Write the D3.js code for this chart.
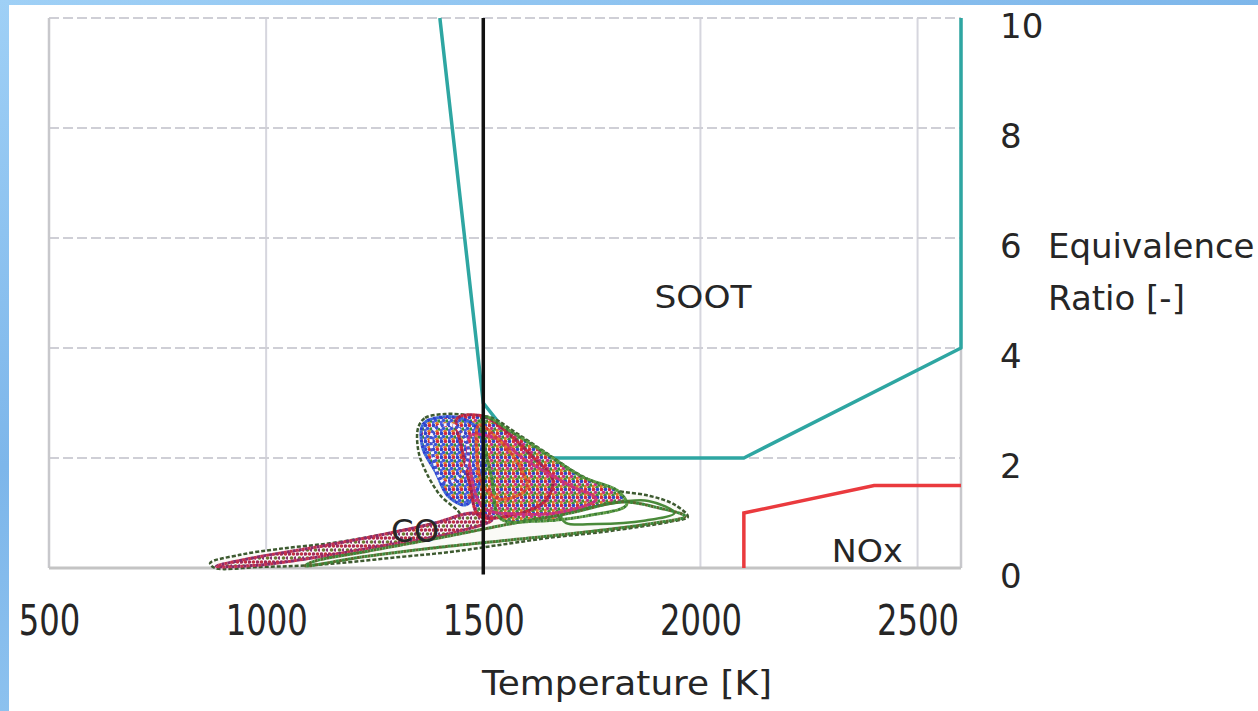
<!DOCTYPE html>
<html>
<head>
<meta charset="utf-8">
<script src="https://cdn.jsdelivr.net/npm/d3@7"></script>
<style>
  html, body { margin: 0; padding: 0; }
  body { width: 1258px; height: 711px; overflow: hidden;
         background: linear-gradient(160deg, #9fd0f6 0%, #7db6ea 40%, #a9d6f7 100%); }
  svg { display: block; }
  text { font-family: "DejaVu Sans", Verdana, sans-serif; fill: #262626; }
</style>
</head>
<body>
<svg id="chart"></svg>
<script>
// axis ticks
const xTicks = [500, 1000, 1500, 2000, 2500];
const xGrid = [1000, 2000, 2500];
const yTicks = [0, 2, 4, 6, 8, 10];

// region boundaries [temperature K, equivalence ratio]
const sootLine = [[1400, 10], [1500, 3], [1600, 2], [2100, 2], [2600, 4], [2600, 10]];
const noxLine = [[2100, 0], [2100, 1], [2400, 1.5], [2600, 1.5]];
const refLine = [[1500, -0.12], [1500, 10]];

// simulated trajectories (hand-read outlines of the cloud)
const envelope = [[1350, 2.55], [1366, 2.73], [1412, 2.8], [1469, 2.78], [1520, 2.73], [1573, 2.47],
  [1642, 2.11], [1723, 1.69], [1803, 1.42], [1884, 1.31], [1941, 1.15], [1971, 0.93], [1930, 0.84],
  [1861, 0.75], [1769, 0.65], [1653, 0.55], [1538, 0.42], [1423, 0.29], [1308, 0.2], [1170, 0.09],
  [1078, 0.04], [986, 0.02], [882, 0], [871, 0.09], [940, 0.24], [1032, 0.35], [1147, 0.45],
  [1262, 0.6], [1377, 0.8], [1446, 0.96], [1400, 1.33], [1366, 1.78], [1350, 2.15]];
const loopBlue = [[1362, 2.62], [1400, 2.74], [1450, 2.72], [1490, 2.5], [1500, 2.0], [1490, 1.5],
  [1460, 1.15], [1420, 1.3], [1390, 1.75], [1360, 2.2]];
const loopRed = [[1440, 2.72], [1500, 2.76], [1550, 2.5], [1610, 2.05], [1660, 1.6], [1640, 1.2],
  [1560, 0.95], [1490, 0.95], [1470, 1.5], [1450, 2.2]];
const loopGreen = [[1500, 2.74], [1570, 2.45], [1650, 2.05], [1730, 1.65], [1810, 1.4], [1830, 1.15],
  [1740, 0.95], [1620, 0.85], [1540, 0.9], [1520, 1.6]];
const loopMagenta = [[1470, 2.4], [1530, 2.35], [1600, 1.95], [1700, 1.5], [1760, 1.25], [1680, 1.02],
  [1580, 0.98], [1500, 1.1], [1470, 1.8]];
const loopOrange = [[1490, 2.6], [1540, 2.3], [1580, 1.9], [1600, 1.45], [1540, 1.25], [1500, 1.5], [1485, 2.1]];
const loopCyan = [[1385, 2.5], [1430, 2.6], [1465, 2.2], [1450, 1.7], [1410, 1.55], [1385, 2.0]];
const loopPurple = [[885, 0.03], [980, 0.2], [1100, 0.36], [1250, 0.58], [1380, 0.8], [1480, 1.0],
  [1520, 0.88], [1420, 0.62], [1280, 0.42], [1120, 0.2], [980, 0.05]];
const loopOlive = [[1090, 0.04], [1220, 0.2], [1380, 0.36], [1550, 0.5], [1720, 0.64], [1880, 0.8],
  [1965, 0.94], [1900, 1.1], [1820, 1.2], [1700, 1.0], [1560, 0.8], [1400, 0.55], [1230, 0.3], [1110, 0.12]];
const loopTail = [[1680, 0.95], [1780, 1.15], [1880, 1.22], [1940, 1.0], [1870, 0.86], [1760, 0.8], [1690, 0.82]];

// region labels
const labels = [
  { text: 'SOOT', t: 2006, phi: 4.73, len: 97 },
  { text: 'NOx', t: 2384, phi: 0.11, len: 71 },
  { text: 'CO', t: 1343, phi: 0.47, len: 48 }
];

const W = 1258, H = 711;
const svg = d3.select('#chart').attr('width', W).attr('height', H);

// white sheet over the blue backdrop
svg.append('rect').attr('x', 9).attr('y', 5).attr('width', W - 9).attr('height', H - 5).attr('fill', '#fff');

const x = d3.scaleLinear().domain([500, 2600]).range([49, 961]);
const y = d3.scaleLinear().domain([0, 10]).range([568, 18]);

const line = d3.line().x(d => x(d[0])).y(d => y(d[1]));
const loop = d3.line().x(d => x(d[0])).y(d => y(d[1])).curve(d3.curveCatmullRomClosed.alpha(0.5));

// speckle textures for the dense part of the cloud
const defs = svg.append('defs');
function speckle(id, dots, bg) {
  const p = defs.append('pattern').attr('id', id)
    .attr('width', 8).attr('height', 8).attr('patternUnits', 'userSpaceOnUse');
  p.append('rect').attr('width', 8).attr('height', 8).attr('fill', bg);
  dots.forEach(([cx, cy, c]) => p.append('circle').attr('cx', cx).attr('cy', cy).attr('r', 1.8).attr('fill', c));
}
speckle('mix', [[1.5, 1.5, '#d42a3c'], [5.5, 1.5, '#2f45c8'], [3.5, 4.5, '#c0308a'],
  [7, 5, '#3c8a3a'], [1, 6.5, '#e07a2a'], [5, 7.5, '#4a8a3a']], '#fbf6f6');
speckle('blue', [[1.5, 1.5, '#2f45c8'], [5.5, 1.5, '#d42a3c'], [3.5, 4.5, '#3a55d8'],
  [7, 5, '#3c8a3a'], [1, 6.5, '#5060e0'], [5, 7.5, '#e07a2a']], '#f6f7fd');
speckle('band', [[1.5, 2, '#a02a5a'], [5.5, 2, '#c03040'], [3.5, 6, '#6a7a30'], [7.5, 6, '#8a3070']], '#fbf8f8');

// grid
const grid = svg.append('g');
grid.selectAll('line.v').data(xGrid).enter().append('line')
  .attr('x1', d => x(d)).attr('x2', d => x(d)).attr('y1', y(10)).attr('y2', y(0))
  .attr('stroke', '#d6d6de').attr('stroke-width', 2);
grid.selectAll('line.h').data(yTicks.filter(d => d > 0)).enter().append('line')
  .attr('x1', x(500)).attr('x2', x(2600)).attr('y1', d => y(d)).attr('y2', d => y(d))
  .attr('stroke', '#cfcfd6').attr('stroke-width', 2).attr('stroke-dasharray', '10 4');
// frame
grid.append('line').attr('x1', x(500)).attr('x2', x(500)).attr('y1', y(10)).attr('y2', y(0))
  .attr('stroke', '#c8c8cc').attr('stroke-width', 2.5);
grid.append('line').attr('x1', x(2600)).attr('x2', x(2600)).attr('y1', y(10)).attr('y2', y(0))
  .attr('stroke', '#c8c8cc').attr('stroke-width', 2.5);
grid.append('line').attr('x1', x(500)).attr('x2', x(2600)).attr('y1', y(0)).attr('y2', y(0))
  .attr('stroke', '#c4c4c4').attr('stroke-width', 3);

// boundaries
svg.append('path').datum(sootLine).attr('d', line).attr('fill', 'none')
  .attr('stroke', '#2ea6a2').attr('stroke-width', 3.5).attr('stroke-linejoin', 'round');
svg.append('path').datum(noxLine).attr('d', line).attr('fill', 'none')
  .attr('stroke', '#ea3a3e').attr('stroke-width', 3.5);

// cloud of trajectories
const cloud = svg.append('g');
cloud.append('path').datum(envelope).attr('d', loop).attr('fill', '#fafaf6')
  .attr('stroke', '#3d5a30').attr('stroke-width', 2.5).attr('stroke-dasharray', '4 2');
[[loopPurple, 'band'], [loopGreen, 'mix'], [loopRed, 'mix'],
 [loopMagenta, 'mix'], [loopBlue, 'blue']].forEach(([l, p]) => {
  cloud.append('path').datum(l).attr('d', loop).attr('fill', `url(#${p})`);
});
cloud.append('path').datum(loopTail).attr('d', loop).attr('fill', '#fff')
  .attr('stroke', '#4a8a3a').attr('stroke-width', 2.5);

const traj = [
  [loopPurple, '#8a2a6a', '#c23050'], [loopOlive, '#5b6a2e', '#3a8a3a'],
  [loopBlue, '#2e3fcf', '#3a6ad8'], [loopRed, '#d02a3a', '#a02050'],
  [loopGreen, '#3c7d34', '#5a9a40'], [loopMagenta, '#c42a8e', '#d04060'],
  [loopOrange, '#e0782a', '#d23a3a'], [loopCyan, '#f4f4ff', '#4050d0']
];
traj.forEach(([l, c1, c2]) => {
  cloud.append('path').datum(l).attr('d', loop).attr('fill', 'none')
    .attr('stroke', c1).attr('stroke-width', 3).attr('stroke-dasharray', '3 3');
  cloud.append('path').datum(l).attr('d', loop).attr('fill', 'none')
    .attr('stroke', c2).attr('stroke-width', 3).attr('stroke-dasharray', '3 3').attr('stroke-dashoffset', 3);
});

// 1500 K reference line on top
svg.append('path').datum(refLine).attr('d', line).attr('fill', 'none')
  .attr('stroke', '#111').attr('stroke-width', 3.5);

// labels
svg.selectAll('text.region').data(labels).enter().append('text')
  .attr('class', 'region')
  .attr('x', d => x(d.t)).attr('y', d => y(d.phi))
  .attr('text-anchor', 'middle').attr('font-size', 32)
  .attr('textLength', d => d.len).attr('lengthAdjust', 'spacingAndGlyphs')
  .text(d => d.text);

// x axis
const xAxisG = svg.append('g').attr('transform', `translate(0, ${y(0)})`);
xAxisG.call(d3.axisBottom(x).tickValues(xTicks).tickSize(0).tickFormat(d3.format('')));
xAxisG.select('.domain').remove();
xAxisG.selectAll('text')
  .attr('y', 67).attr('dy', 0).attr('fill', '#262626')
  .style('font-family', '"DejaVu Sans", Verdana, sans-serif').style('font-size', '42px')
  .attr('textLength', d => String(d).length * 20.5).attr('lengthAdjust', 'spacingAndGlyphs');

svg.append('text').attr('x', 627).attr('y', 695).attr('text-anchor', 'middle')
  .attr('font-size', 33).attr('textLength', 290).attr('lengthAdjust', 'spacingAndGlyphs')
  .text('Temperature [K]');

// y axis on the right
const yAxisG = svg.append('g').attr('transform', `translate(${x(2600)}, 0)`);
yAxisG.call(d3.axisRight(y).tickValues(yTicks).tickSize(0).tickPadding(39));
yAxisG.select('.domain').remove();
yAxisG.selectAll('text')
  .attr('dy', 19).attr('fill', '#262626').attr('text-anchor', 'start')
  .style('font-family', '"DejaVu Sans", Verdana, sans-serif').style('font-size', '34px');

svg.append('text').attr('x', 1048).attr('y', 258).attr('font-size', 34).text('Equivalence');
svg.append('text').attr('x', 1048).attr('y', 310).attr('font-size', 34).text('Ratio [-]');
</script>
</body>
</html>
